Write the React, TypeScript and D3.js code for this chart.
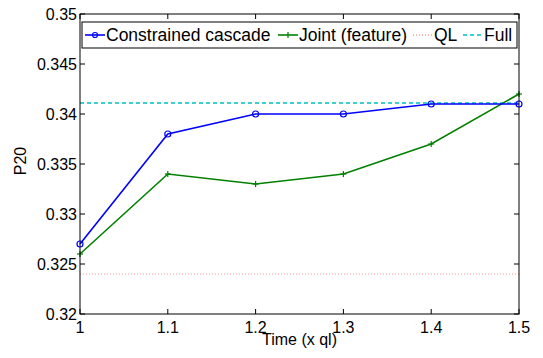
import * as d3 from "d3"

const times = [1, 1.1, 1.2, 1.3, 1.4, 1.5]
const cascade = [0.327, 0.338, 0.34, 0.34, 0.341, 0.341]
const joint = [0.326, 0.334, 0.333, 0.334, 0.337, 0.342]
const qlValue = 0.324
const fullValue = 0.3411
const xTicks = [1, 1.1, 1.2, 1.3, 1.4, 1.5]
const yTicks = [0.32, 0.325, 0.33, 0.335, 0.34, 0.345, 0.35]

const W = 543
const H = 358
const m = { l: 80, r: 24, t: 14, b: 44 }
const font = "Liberation Sans, Arial, Helvetica, sans-serif"

export default function App() {
  const x = d3.scaleLinear().domain([1, 1.5]).range([m.l, W - m.r])
  const y = d3.scaleLinear().domain([0.32, 0.35]).range([H - m.b, m.t])
  const line = d3
    .line<number>()
    .x((_, i) => x(times[i]))
    .y((d) => y(d))

  const fmtY = (v: number) => String(+v.toFixed(3))
  const top = y(0.35)
  const bottom = y(0.32)
  const left = x(1)
  const right = x(1.5)
  const tick = 5

  // legend entries
  const legY = 35
  const legend = [
    { label: "Constrained cascade", x0: 85, color: "#0000ff", dash: undefined, marker: "o" },
    { label: "Joint (feature)", x0: 278, color: "#008000", dash: undefined, marker: "+" },
    { label: "QL", x0: 413, color: "#ff9a9a", dash: "1 2", marker: "" },
    { label: "Full", x0: 463, color: "#00bfbf", dash: "4 3", marker: "" },
  ]

  return (
    <svg width={W} height={H} style={{ position: "absolute", left: 0, top: 0 }} fontFamily={font}>
      <rect width={W} height={H} fill="#fff" />

      {/* reference lines */}
      <line x1={left} x2={right} y1={y(qlValue)} y2={y(qlValue)} stroke="#ff9a9a" strokeWidth={1.2} strokeDasharray="1 2" />
      <line x1={left} x2={right} y1={y(fullValue)} y2={y(fullValue)} stroke="#00bfbf" strokeWidth={1.6} strokeDasharray="4 3" />

      <path d={line(joint) ?? ""} fill="none" stroke="#008000" strokeWidth={1.6} />
      {joint.map((v, i) => (
        <g key={"j" + i} stroke="#008000" strokeWidth={1.2}>
          <line x1={x(times[i]) - 3} x2={x(times[i]) + 3} y1={y(v)} y2={y(v)} />
          <line x1={x(times[i])} x2={x(times[i])} y1={y(v) - 3} y2={y(v) + 3} />
        </g>
      ))}

      <path d={line(cascade) ?? ""} fill="none" stroke="#0000ff" strokeWidth={1.6} />
      {cascade.map((v, i) => (
        <circle key={"c" + i} cx={x(times[i])} cy={y(v)} r={3} fill="none" stroke="#0000ff" strokeWidth={1.2} />
      ))}

      {/* axes box */}
      <rect x={left} y={top} width={right - left} height={bottom - top} fill="none" stroke="#000" strokeWidth={1} />
      {xTicks.map((t) => (
        <g key={"x" + t}>
          <line x1={x(t)} x2={x(t)} y1={bottom} y2={bottom - tick} stroke="#000" />
          <line x1={x(t)} x2={x(t)} y1={top} y2={top + tick} stroke="#000" />
          <text x={x(t)} y={bottom + 19} fontSize={16} textAnchor="middle">
            {String(t)}
          </text>
        </g>
      ))}
      {yTicks.map((t) => (
        <g key={"y" + t}>
          <line x1={left} x2={left + tick} y1={y(t)} y2={y(t)} stroke="#000" />
          <line x1={right} x2={right - tick} y1={y(t)} y2={y(t)} stroke="#000" />
          <text x={left - 3} y={y(t) + 6} fontSize={16} textAnchor="end">
            {fmtY(t)}
          </text>
        </g>
      ))}

      <text x={(left + right) / 2} y={345} fontSize={16} textAnchor="middle">
        Time (x ql)
      </text>
      <text transform={`translate(26, ${y(0.3353)}) rotate(-90)`} fontSize={16} textAnchor="middle">
        P20
      </text>

      {/* legend */}
      <rect x={82} y={22} width={435} height={26} fill="#fff" stroke="#000" strokeWidth={1} />
      {legend.map((e) => (
        <g key={e.label}>
          <line x1={e.x0} x2={e.x0 + 20} y1={legY} y2={legY} stroke={e.color} strokeWidth={1.6} strokeDasharray={e.dash} />
          {e.marker === "o" && <circle cx={e.x0 + 10} cy={legY} r={2.5} fill="none" stroke={e.color} strokeWidth={1.2} />}
          {e.marker === "+" && (
            <line x1={e.x0 + 10} x2={e.x0 + 10} y1={legY - 3} y2={legY + 3} stroke={e.color} strokeWidth={1.2} />
          )}
          <text x={e.x0 + 21} y={legY + 6} fontSize={17.5}>
            {e.label}
          </text>
        </g>
      ))}
    </svg>
  )
}
